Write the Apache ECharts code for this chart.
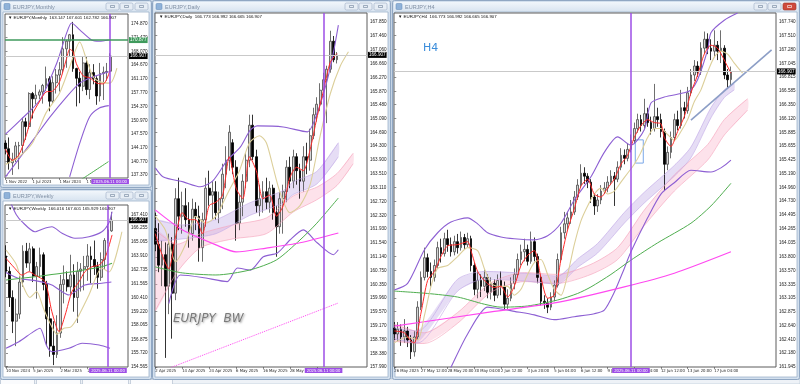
<!DOCTYPE html>
<html><head><meta charset="utf-8">
<script src="https://cdn.jsdelivr.net/npm/echarts@6/dist/echarts.min.js"></script>
<style>html,body{margin:0;padding:0;background:#c6d4e4;}#c{width:800px;height:384px;}</style>
</head><body><div id="c"></div>
<script>
// ---------------- DATA ----------------
// candles: [open, high, low, close]
const mOhlc = [
[145.3,146.0,142.5,143.9],[143.9,146.7,138.7,140.4],[140.4,142.9,137.4,141.3],[141.3,145.6,140.6,144.6],
[144.6,145.6,138.8,144.7],[144.7,151.6,142.6,150.6],[150.6,151.6,146.1,149.4],[149.4,157.9,148.8,157.6],
[157.6,158.0,151.4,156.3],[156.3,159.8,154.9,157.2],[157.2,158.6,156.2,158.0],[158.0,160.0,155.1,159.6],
[159.6,164.3,158.2,161.3],[161.3,161.9,153.2,155.7],[155.7,161.9,155.1,160.3],[160.3,163.7,157.6,162.2],
[162.2,165.4,158.1,163.5],[163.5,171.6,162.7,168.7],[168.7,170.9,164.0,170.6],[170.6,172.4,166.8,172.2],
[172.2,175.4,163.0,163.8],[163.8,164.0,154.4,161.4],[161.4,163.0,155.2,159.4],[159.4,166.7,158.2,165.2],
[165.2,166.7,157.2,158.6],[158.6,164.9,156.2,162.8],[162.8,164.9,159.9,161.3],[161.3,161.9,154.8,157.0],
[157.0,165.2,155.6,162.6],[162.6,164.3,156.0,162.9],[162.9,165.2,160.8,163.1],[163.147,167.601,162.782,166.907]];
const wOhlc = [
[163.90,164.80,162.10,162.60],[162.60,163.00,159.60,160.40],[160.40,161.00,157.40,158.40],[158.40,160.30,156.30,159.00],
[159.00,162.20,158.60,161.70],[161.70,164.80,161.30,164.30],[164.30,165.00,162.90,163.30],[163.30,165.00,162.60,164.50],
[164.50,164.70,161.70,162.20],[162.20,163.40,160.30,163.00],[163.00,164.60,162.10,164.00],[164.00,164.20,161.00,161.50],
[161.50,161.80,156.30,158.60],[158.60,159.60,155.40,156.30],[156.30,158.40,154.70,155.60],[155.60,158.90,155.30,157.40],
[157.40,162.30,157.00,161.50],[161.50,163.10,159.90,161.90],[161.90,162.60,160.90,161.30],[161.30,164.00,160.70,162.30],
[162.30,163.20,159.20,160.40],[160.40,163.40,158.25,162.60],[162.60,163.30,160.90,162.80],[162.80,163.90,161.00,163.00],
[163.00,164.90,161.80,163.90],[163.90,164.70,161.60,163.60],[163.60,165.20,162.30,163.00],[163.00,163.40,161.14,162.10],
[162.10,164.20,161.80,163.60],[163.60,165.40,162.80,165.20],[165.20,166.60,164.96,166.10],[166.016,167.601,165.929,166.907]];
const dOhlc = [
[161.95,162.40,161.30,161.50],[161.50,162.10,160.70,160.90],[160.90,161.60,160.30,161.20],[161.20,161.55,158.25,160.30],
[160.30,161.80,159.50,161.50],[161.50,161.70,158.80,160.10],[160.10,163.10,159.90,162.80],[162.80,163.40,161.90,162.30],
[162.30,163.00,161.80,162.60],[162.60,163.10,162.00,162.20],[162.20,162.70,161.40,161.80],[161.80,162.80,161.60,162.50],
[162.50,162.70,161.90,162.30],[162.30,162.60,161.00,161.40],[161.40,162.40,161.00,162.20],[162.20,163.40,162.00,163.10],
[163.10,163.60,162.60,162.90],[162.90,163.30,162.20,163.00],[163.00,163.30,162.20,162.40],[162.40,163.00,162.10,162.80],
[162.80,163.80,162.50,163.50],[163.50,164.30,163.10,163.90],[163.90,164.90,163.60,164.70],[164.40,164.50,163.50,163.70],
[163.70,163.90,161.60,162.10],[162.10,162.90,161.90,162.70],[162.70,163.50,162.30,163.30],[163.30,164.10,163.10,163.90],
[163.90,165.20,163.70,164.90],[164.90,165.20,163.90,164.00],[164.00,164.20,162.40,162.60],[162.60,163.20,162.30,162.80],
[162.80,163.30,162.40,163.00],[163.00,163.40,162.50,162.70],[162.70,163.30,162.40,163.10],[163.10,163.20,162.20,162.40],
[162.40,162.60,161.14,162.00],[162.00,163.00,161.80,162.80],[162.80,163.20,161.80,163.00],[163.00,163.90,162.70,163.70],
[163.70,164.00,163.10,163.30],[163.30,164.20,163.10,164.00],[164.00,164.10,163.20,163.60],[163.60,163.80,162.80,163.30],
[163.30,164.30,163.00,164.00],[164.00,164.40,163.50,163.90],[163.90,164.80,163.60,164.60],[164.60,165.40,164.50,165.20],
[165.20,165.70,165.00,165.50],[165.50,166.10,165.30,165.90],[165.90,166.40,165.70,166.20],[166.20,166.60,164.96,166.50],
[166.50,167.60,166.40,167.30],[167.30,167.45,166.70,166.77],[166.773,166.992,166.665,166.907]];
const hOhlc = [
[162.60,162.70,162.40,162.50],[162.50,162.70,162.38,162.58],[162.58,162.66,162.30,162.45],[162.45,162.75,162.35,162.55],
[162.55,162.62,162.28,162.40],[162.40,162.48,162.08,162.20],[162.20,162.55,162.12,162.45],[162.45,163.05,162.40,162.95],
[162.95,163.55,162.90,163.45],[163.45,163.95,163.40,163.78],[163.78,163.85,163.45,163.55],[163.55,163.70,163.30,163.45],
[163.45,163.75,163.38,163.65],[163.65,164.05,163.60,163.95],[163.95,164.10,163.70,163.85],[163.85,164.20,163.80,164.10],
[164.10,164.25,163.88,164.00],[164.00,164.12,163.80,163.88],[163.88,164.15,163.82,164.05],[164.05,164.18,163.85,163.95],
[163.95,164.22,163.90,164.12],[164.12,164.18,163.92,164.00],[164.00,164.20,163.95,164.10],[164.10,164.15,163.55,163.65],
[163.65,163.70,163.15,163.25],[163.25,163.55,163.10,163.40],[163.40,163.50,163.12,163.30],[163.30,163.58,163.22,163.45],
[163.45,163.50,163.10,163.20],[163.20,163.45,163.08,163.35],[163.35,163.42,163.05,163.15],[163.15,163.50,163.10,163.40],
[163.40,163.55,163.15,163.30],[163.30,163.38,162.90,163.00],[163.00,163.25,162.92,163.10],[163.10,163.45,163.05,163.35],
[163.35,163.60,163.25,163.50],[163.50,163.85,163.45,163.75],[163.75,164.00,163.65,163.88],[163.88,164.10,163.72,163.92],
[163.92,164.00,163.65,163.72],[163.72,164.22,163.68,164.05],[164.05,164.12,163.72,163.80],[163.80,163.85,163.35,163.45],
[163.45,163.50,162.98,163.05],[163.05,163.15,162.92,163.02],[163.02,163.10,162.85,162.95],[162.95,163.20,162.90,163.12],
[163.12,163.40,163.05,163.32],[163.32,163.85,163.28,163.75],[163.75,164.30,163.70,164.20],[164.20,164.55,164.10,164.35],
[164.35,164.55,164.25,164.45],[164.45,164.75,164.35,164.55],[164.55,164.90,164.50,164.80],[164.80,165.10,164.75,165.00],
[165.00,165.35,164.95,165.20],[165.20,165.30,165.02,165.15],[165.15,165.20,164.95,165.05],[165.05,165.10,164.70,164.80],
[164.80,164.85,164.50,164.65],[164.65,164.85,164.55,164.75],[164.75,165.00,164.68,164.90],[164.90,165.05,164.85,164.95],
[164.95,165.15,164.88,165.05],[165.05,165.25,165.00,165.15],[165.15,165.22,164.65,165.10],[165.10,165.40,165.05,165.30],
[165.30,165.62,165.25,165.50],[165.50,165.60,165.35,165.45],[165.45,165.70,165.40,165.60],[165.60,165.85,165.55,165.75],
[165.75,166.05,165.70,165.95],[165.95,166.20,165.88,166.10],[166.10,166.18,165.90,166.00],[166.00,166.45,165.95,166.20],
[166.20,166.30,165.98,166.05],[166.05,166.15,165.85,165.95],[165.95,166.70,165.90,166.15],[166.15,166.30,165.98,166.10],
[166.10,166.20,165.80,165.90],[165.90,165.95,164.90,165.35],[165.35,165.65,165.25,165.55],[165.55,165.90,165.45,165.80],
[165.80,166.20,165.75,166.10],[166.10,166.25,165.92,166.00],[166.00,166.60,165.95,166.30],[166.30,166.40,166.12,166.25],
[166.25,166.65,166.20,166.55],[166.55,166.95,166.50,166.85],[166.85,167.10,166.75,167.00],[167.00,167.08,166.82,166.90],
[166.90,167.40,166.85,167.30],[167.30,167.58,167.20,167.45],[167.45,167.55,167.20,167.30],[167.30,167.45,167.10,167.25],
[167.25,167.60,167.15,167.35],[167.35,167.42,167.10,167.25],[167.25,167.60,167.05,167.30],[167.30,167.35,166.78,166.85],
[166.85,166.95,166.62,166.77],[166.773,166.992,166.665,166.907]];

// indicator readings: [barIndex, price]  (ribbons: [barIndex, top, bottom])
const mBbUp = [[0,147.5],[4.4,151.0],[10.2,156.0],[15.2,165.2],[18.1,172.6],[19.6,175.1],[22,173.4],[25.5,170.9],[27.8,170.6],[30.6,170.9]];
const mBbMid = [[0,136.9],[8.2,146.1],[13.2,151.8],[18.1,156.8],[22,160.2],[25.8,161.7],[30.6,163.0]];
const mBbLo = [[19,136.9],[22,145.3],[24.9,151.8],[27.8,154.0],[30.6,154.6]];
const mRed = [[0,143.8],[2,141.0],[4,142.4],[6,146.8],[8,152.5],[10,155.5],[12,158.0],[14,158.2],[16,160.5],[18,166.0],[19,168.6],[20,168.0],[21,165.0],[23,162.0],[25,161.5],[27,160.2],[29,160.0],[31,163.4]];
const mBeige = [[0,140.0],[4,141.9],[8,145.3],[12,152.8],[16,157.7],[19,164.2],[22,170.4],[24,166.0],[26,161.7],[28,160.5],[31,160.2],[33,163.9]];
const mGreen = [[22,136.0],[26,138.2],[30.5,140.7]];

const wBbUp = [[1.5,168.3],[3,167.4],[4.7,166.79],[8.5,165.94],[11,166.2],[13.5,166.36],[16.5,165.81],[20.3,165.39],[24.4,165.52],[28.2,165.94],[30.3,166.7],[31.2,167.63]];
const wBbMid = [[0,162.5],[3.8,162.0],[9,161.8],[13.5,161.45],[18.5,160.61],[23.2,161.45],[28.2,161.6],[31,161.7]];
const wBbLo = [[0,156.12],[3.8,156.67],[8,157.5],[10,157.8],[12,156.3],[13.5,155.83],[18.5,156.12],[22.4,156.54],[27.4,156.4],[30.6,156.12]];
const wGreen = [[0,161.87],[8.5,162.15],[18.5,162.52],[28.2,162.99],[31.2,163.28]];
const wRed = [[0,163.7],[2.6,162.86],[4.7,162.29],[6.8,162.57],[8.5,162.29],[11.5,161.73],[13.5,159.2],[15.6,157.52],[17.4,158.92],[19.4,160.89],[21.5,161.73],[23.2,162.57],[25.3,162.99],[27.4,163.14],[29.1,163.7],[31.2,165.67]];
const wBeige = [[0,164.4],[3,163.2],[5,161.4],[7,160.4],[9,160.9],[11,159.5],[13,158.2],[15,157.3],[17,157.8],[19,157.9],[21,158.67],[24.4,160.61],[28.2,162.88],[30.3,162.55],[34.1,165.94]];

const dBbUp = [[0,163.68],[2.4,163.42],[8.3,163.28],[13.4,163.14],[17,163.3],[21.4,163.9],[25.3,164.28],[28.2,164.76],[30.3,164.88],[38,164.85],[45.2,164.71],[48.1,165.25],[51.1,166.19],[52.9,166.96],[54.4,167.76]];
const dBbLo = [[4,159.8],[7.4,160.62],[14,160.55],[21.4,160.43],[24.4,160.82],[28.2,160.76],[32.1,161.14],[36.3,161.25],[40,161.62],[44,161.91],[48.1,161.54],[52.9,161.2],[54.4,161.34]];
const dRed = [[0,161.8],[2,161.2],[4,160.8],[6,161.7],[8,162.4],[10,162.2],[12,162.2],[14,161.8],[16,162.6],[18,162.7],[20,162.9],[22,164.0],[24,163.1],[26,162.8],[28,164.0],[30,163.6],[32,162.8],[34,162.9],[36,162.3],[38,162.6],[40,163.4],[42,163.7],[44,163.6],[46,164.2],[48,165.1],[50,165.9],[52,166.7],[54,166.95]];
const dBeige = [[0,162.3],[3,161.9],[6,161.0],[9,161.5],[12,162.3],[15,162.1],[18,162.3],[22,163.05],[25,163.6],[28,164.4],[31,164.6],[33,164.4],[35,163.7],[37,163.0],[40,162.4],[43,162.6],[46,163.2],[49,164.6],[52,165.8],[55,166.6],[57.4,167.0]];
const dPurpleRib = [[0,162.2,161.6],[8,162.05,161.65],[18,162.2,161.8],[28,162.68,162.32],[38,163.03,162.67],[41,163.28,162.92],[48,163.58,163.22],[54.4,164.4,164.0]];
const dPinkRib = [[0,161.9,159.6],[6.5,161.5,160.7],[13.4,161.8,161.4],[23,162.05,161.65],[33,162.25,161.8],[41,162.88,162.42],[48,163.13,162.77],[54,163.52,163.18],[58.8,164.1,163.8]];
const dGreen = [[0,160.85],[8,160.68],[18,160.62],[28,160.76],[36,161.05],[43,161.62],[48,162.1],[54.4,162.82]];
const dMagenta = [[0,162.48],[8,161.91],[18,161.48],[24,161.28],[33,161.39],[43,161.54],[54.4,161.82]];
const dMagentaDot = [[4.5,157.97],[54.4,159.82]];

const hBbUp = [[0,163.24],[4,163.35],[9,163.91],[13,164.2],[17,164.38],[22,164.45],[25,164.35],[28,164.2],[32,164.13],[36,164.1],[42,164.08],[46,164.15],[50,164.36],[54,164.75],[59,165.14],[63,165.55],[67,165.81],[71,165.67],[75,165.93],[77,166.38],[81,166.48],[87,166.55],[89,166.6],[91,166.77],[94,167.27],[95,167.56],[99,167.77],[103,167.89]];
const hBbLo = [[0,161.6],[10,161.5],[15,161.7],[17,161.94],[22,162.5],[28,162.95],[32,162.92],[36,162.88],[42,162.82],[48,162.74],[54,162.79],[60,162.84],[63,162.9],[66,163.2],[69,163.6],[71,163.88],[76,164.45],[80,164.85],[84,165.04],[89,165.25],[95,165.22],[98,165.29],[101,165.42]];
const hRed = [[0,162.55],[3,162.52],[5,162.38],[6,162.35],[8,162.85],[10,163.4],[12,163.55],[14,163.8],[16,163.98],[19,164.0],[22,164.05],[23,163.9],[25,163.55],[27,163.4],[30,163.28],[32,163.3],[34,163.12],[36,163.3],[38,163.65],[40,163.82],[42,163.9],[44,163.45],[46,163.1],[48,163.15],[50,163.75],[52,164.25],[54,164.6],[56,164.98],[58,165.1],[60,164.85],[62,164.8],[64,164.95],[66,165.1],[68,165.35],[70,165.5],[72,165.8],[74,166.0],[76,166.1],[78,166.05],[80,166.03],[81,165.8],[83,165.65],[85,165.9],[87,166.15],[89,166.55],[91,166.85],[93,167.2],[95,167.35],[97,167.3],[99,167.1],[101,166.88]];
const hBeige = [[0,162.35],[4,162.45],[7,162.4],[9,162.8],[11,163.3],[13,163.6],[16,163.65],[19,163.8],[22,163.95],[25,163.9],[27,163.6],[29,163.35],[31,163.3],[34,163.3],[36,163.15],[38,163.25],[40,163.5],[42,163.7],[44,163.75],[46,163.5],[48,163.25],[50,163.15],[52,163.5],[54,164.0],[56,164.4],[58,164.65],[60,164.85],[62,164.95],[64,164.85],[66,164.9],[68,165.05],[70,165.2],[72,165.35],[74,165.55],[76,165.8],[78,165.95],[80,165.95],[82,165.85],[84,165.75],[86,165.9],[88,166.1],[90,166.4],[92,166.6],[94,166.9],[96,167.15],[98,167.25],[100,167.2],[102,167.05],[104.5,166.88]];
const hPurpleRib = [[0,162.60,162.42],[7,162.55,162.35],[19,163.42,163.22],[27,163.55,163.42],[39,163.52,163.39],[49,163.47,163.34],[55,163.76,163.62],[61,164.02,163.86],[69,164.54,164.36],[75,164.88,164.70],[84,165.33,165.15],[89,165.64,165.46],[95,166.30,166.13],[99,166.60,166.47],[102,166.70,166.60]];
const hPinkRib = [[0,162.66,162.38],[9,162.52,162.34],[19,162.86,162.68],[29,163.36,163.20],[39,163.53,163.38],[49,163.50,163.35],[59,163.67,163.50],[67,163.95,163.75],[75,164.58,164.32],[84,165.17,164.90],[94,165.68,165.42],[99,166.10,165.84],[106,166.45,166.26]];
const hGreen = [[0,163.22],[10,163.18],[19,163.12],[27,163.0],[32,162.95],[40,162.97],[49,163.07],[55,163.18],[59,163.29],[65,163.5],[71,163.74],[79,164.03],[89,164.36],[95,164.65],[101,165.03]];
const hMagenta = [[0,162.63],[29,162.87],[49,163.03],[69,163.29],[84,163.52],[101,163.88]];
const hTrend = [[89,166.09],[113.2,167.27]];

// axis ticks
const mPriceTicks = [174.870,171.470,168.070,164.670,161.170,157.770,154.370,150.970,147.570,144.170,140.770,137.370];
const wPriceTicks = [167.410,166.255,165.065,163.910,162.735,161.565,160.410,159.220,158.065,156.875,155.720,154.565];
const dPriceTicks = [167.850,167.460,167.060,166.660,166.270,165.870,165.480,165.090,164.690,164.300,163.900,163.510,163.110,162.720,162.320,161.930,161.540,161.140,160.750,160.350,159.960,159.570,159.170,158.780,158.380,157.990];
const hPriceTicks = [167.740,167.510,167.280,167.045,166.815,166.585,166.350,166.120,165.885,165.655,165.425,165.190,164.960,164.730,164.495,164.265,164.035,163.800,163.570,163.335,163.105,162.875,162.640,162.410,162.180,161.945];
const mTimeIdx = [0,8,16,24];
const mTimeText = ['1 Nov 2022','1 Jul 2023','1 Mar 2024','1 Nov 2024'];
const wTimeIdx = [0,8,16,24];
const wTimeText = ['10 Nov 2024','5 Jan 2025','2 Mar 2025','27 Apr 2025'];
const dTimeIdx = [0,8,16,24,32,40,48];
const dTimeText = ['2 Apr 2025','14 Apr 2025','24 Apr 2025','6 May 2025','16 May 2025','28 May 2025','9 Jun 2025'];
const hTimeIdx = [0,8,16,24,32,40,48,56,64,72,80,88,96];
const hTimeText = ['26 May 2025','27 May 12:00','28 May 20:00','30 May 04:00','2 Jun 12:00','3 Jun 20:00','5 Jun 04:00','6 Jun 12:00','9 Jun 20:00','11 Jun 04:00','12 Jun 12:00','13 Jun 20:00','17 Jun 04:00'];
const lastPrice = 166.907;
const lastPriceText = '166.907';
const levelPrice = 170.877;
const vlineText = '2025.06.11 00:00';

// ---------------- BUILD ----------------
const LF = 4.6;
const XF = 4.2;
const FONT = 'Liberation Sans, Arial, sans-serif';
const NARROW = 'Liberation Sans Narrow, DejaVu Sans Condensed, Liberation Sans, sans-serif';
const C = {bullFill:'#d6d6d6', bullLine:'#4a4a4a', bear:'#000000', red:'#ff2a2a', beige:'#dccf9a', bb:'#8d5fd3',
  green:'#4fae4f', magenta:'#ff48f0', vline:'#9d4ee6', purpleFill:'rgba(190,165,230,0.38)', purpleEdge:'#c0a6e6',
  pinkFill:'rgba(250,170,195,0.34)', pinkEdge:'#f5a0b8', trend:'#8c9ec6'};

const panels = [
 {box:[5,14,123,164], xMin:-0.15, xMax:36.29, yMin:136.628, yMax:177.353, ohlc:mOhlc, yTicks:mPriceTicks, xIdx:mTimeIdx, xText:mTimeText, vline:31,
  lines:[[mBbUp,C.bb,1.1],[mBbMid,C.bb,1.1],[mBbLo,C.bb,1.1],[mGreen,C.green,1],[mBeige,C.beige,1.1],[mRed,C.red,1]], ribbons:[], level:true},
 {box:[5,205,123,162], xMin:-0.29, xMax:35.89, yMin:154.54, yMax:168.194, ohlc:wOhlc, yTicks:wPriceTicks, xIdx:wTimeIdx, xText:wTimeText, vline:30,
  lines:[[wBbUp,C.bb,1.1],[wBbMid,C.bb,1.1],[wBbLo,C.bb,1.1],[wGreen,C.green,1.1],[wBeige,C.beige,1.1],[wRed,C.red,1]], ribbons:[]},
 {box:[155,13,212,354], xMin:-0.09, xMax:62.91, yMin:157.99, yMax:168.107, ohlc:dOhlc, yTicks:dPriceTicks, xIdx:dTimeIdx, xText:dTimeText, vline:50,
  lines:[[dBbUp,C.bb,1.1],[dBbLo,C.bb,1.1],[dGreen,C.green,1],[dMagenta,C.magenta,1.2],[dBeige,C.beige,1.1],[dRed,C.red,1]],
  dotted:[dMagentaDot,C.magenta], ribbons:[[dPinkRib,C.pinkFill,C.pinkEdge],[dPurpleRib,C.purpleFill,C.purpleEdge]]},
 {box:[394,13,382,354], xMin:-0.09, xMax:114.52, yMin:161.945, yMax:167.891, ohlc:hOhlc, yTicks:hPriceTicks, xIdx:hTimeIdx, xText:hTimeText, vline:71,
  lines:[[hBbUp,C.bb,1.1],[hBbLo,C.bb,1.1],[hGreen,C.green,1],[hMagenta,C.magenta,1.2],[hBeige,C.beige,1.1],[hRed,C.red,1],[hTrend,C.trend,1.6]],
  ribbons:[[hPinkRib,C.pinkFill,C.pinkEdge],[hPurpleRib,C.purpleFill,C.purpleEdge]], box2:true}
];

const opt = {animation:false, grid:[], xAxis:[], yAxis:[], series:[], graphic:[]};

function ribbonSeries(gi, pts, fill){
  return {type:'custom', xAxisIndex:gi, yAxisIndex:gi, clip:true, silent:true, z:1,
    data:[[pts[0][0], pts[0][1]]],
    renderItem:function(params, api){
      const top = pts.map(p => api.coord([p[0], p[1]]));
      const bot = pts.slice().reverse().map(p => api.coord([p[0], p[2]]));
      return {type:'polygon', shape:{points: top.concat(bot), smooth:0.2}, style:{fill:fill, stroke:null}};
    }};
}
function lineSeries(gi, data, color, width, type){
  return {type:'line', xAxisIndex:gi, yAxisIndex:gi, data:data, symbol:'none', smooth:0.25, silent:true, z:4,
    lineStyle:{color:color, width:width, type:type||'solid'}};
}

panels.forEach((p, gi) => {
  opt.grid.push({left:p.box[0], top:p.box[1], width:p.box[2], height:p.box[3], show:true, borderColor:'#5c5c5c', borderWidth:1, backgroundColor:'#fff'});
  opt.xAxis.push({type:'value', gridIndex:gi, min:p.xMin, max:p.xMax, splitLine:{show:false}, axisLine:{show:false},
    axisTick:{show:true, customValues:p.xIdx, length:2, lineStyle:{color:'#444', width:0.6}},
    axisLabel:{show:true, customValues:p.xIdx, formatter:v => p.xText[p.xIdx.indexOf(Math.round(v))] || '',
      fontSize:XF, color:'#222', align:'left', margin:1.5, fontFamily:NARROW}});
  opt.yAxis.push({type:'value', gridIndex:gi, position:'right', min:p.yMin, max:p.yMax, splitLine:{show:false}, axisLine:{show:false},
    axisTick:{show:true, customValues:p.yTicks, length:2, lineStyle:{color:'#444', width:0.6}},
    axisLabel:{show:true, customValues:p.yTicks, formatter:v => v.toFixed(3), fontSize:LF, color:'#222', margin:3, fontFamily:FONT}});
  p.ribbons.forEach(r => {
    opt.series.push(ribbonSeries(gi, r[0], r[1]));
    opt.series.push(lineSeries(gi, r[0].map(q => [q[0], q[1]]), r[2], 0.6));
    opt.series.push(lineSeries(gi, r[0].map(q => [q[0], q[2]]), r[2], 0.6));
  });
  const ml = [
    {yAxis:lastPrice, lineStyle:{color:'#c9c9c9', width:1, type:'solid'},
     label:{show:true, position:'end', formatter:lastPriceText, color:'#fff', backgroundColor:'#000', fontSize:LF, padding:[1,1,0,1], distance:1, fontFamily:FONT}},
    {xAxis:p.vline, lineStyle:{color:C.vline, width:1.5, type:'solid'},
     label:{show:true, position:'start', formatter:vlineText, color:'#fff', backgroundColor:C.vline, fontSize:XF, padding:[1,2,0,2], distance:1, fontFamily:NARROW}}
  ];
  if (p.level) ml.push({yAxis:levelPrice, lineStyle:{color:'#3f9a5c', width:1.6, type:'solid'},
     label:{show:true, position:'end', formatter:levelPrice.toFixed(3), color:'#fff', backgroundColor:'#3f9a5c', fontSize:LF, padding:[1,1,0,1], distance:1, fontFamily:FONT}});
  const cs = {type:'candlestick', xAxisIndex:gi, yAxisIndex:gi, z:3, silent:true, barWidth:'62%',
    data:p.ohlc.map((d,i) => [i, d[0], d[3], d[2], d[1]]),
    itemStyle:{color:C.bullFill, color0:C.bear, borderColor:C.bullLine, borderColor0:C.bear, borderWidth:0.8},
    markLine:{symbol:['none','none'], silent:true, animation:false, data:ml}};
  if (p.box2) cs.markArea = {silent:true, data:[[{xAxis:72.3, yAxis:165.76},{xAxis:74.7, yAxis:165.37}]],
     itemStyle:{color:'rgba(0,0,0,0)', borderColor:'#7aa7e8', borderWidth:1}};
  opt.series.push(cs);
  if (p.dotted) opt.series.push(lineSeries(gi, p.dotted[0], p.dotted[1], 1, 'dotted'));
  p.lines.forEach(l => opt.series.push(lineSeries(gi, l[0], l[1], l[2])));
});

// window chrome
const wins = [
  {x:0, y:0, w:152, h:188, title:'EURJPY,Monthly', active:false},
  {x:0, y:189, w:152, h:191, title:'EURJPY,Weekly', active:false},
  {x:152, y:0, w:239, h:380, title:'EURJPY,Daily', active:false},
  {x:392, y:0, w:408, h:380, title:'EURJPY,H4', active:true}
];
const g = opt.graphic;
g.push({type:'rect', z:-100, shape:{x:0,y:0,width:800,height:384}, style:{fill:'#c6d4e4'}});
g.push({type:'rect', z:-100, shape:{x:0,y:379,width:800,height:5}, style:{fill:'#eef2f7', stroke:'#b4c2d4', lineWidth:0.6}});
[[0,34],[36,80],[82,128],[130,172]].forEach(t => g.push({type:'rect', z:-99, shape:{x:t[0]+0.5,y:379.5,width:t[1]-t[0],height:5}, style:{fill:'#fafbfd', stroke:'#a9b7ca', lineWidth:0.6}}));
wins.forEach(w => {
  g.push({type:'rect', z:-99, shape:{x:w.x+0.5, y:w.y+0.5, width:w.w-1, height:w.h-1, r:2}, style:{fill:'#d3e0ee', stroke:'#90a7c3', lineWidth:1}});
  g.push({type:'rect', z:-98, shape:{x:w.x+2, y:w.y+2, width:w.w-4, height:10},
    style:{fill:{type:'linear', x:0, y:0, x2:0, y2:1, colorStops:[{offset:0,color:'#f1f6fb'},{offset:1,color:'#d7e3f0'}]}}});
  g.push({type:'rect', z:-97, shape:{x:w.x+4, y:w.y+3.5, width:6, height:6, r:1}, style:{fill:'#8fb2d9', stroke:'#5f86b5', lineWidth:0.5}});
  g.push({type:'text', z:-96, x:w.x+13, y:w.y+7, style:{text:w.title, fontSize:5.5, fill:'#7e8ea3', fontFamily:FONT, verticalAlign:'middle'}});
  [46,32,17].forEach((o, k) => {
    const isClose = (k === 2 && w.active);
    g.push({type:'rect', z:-96, shape:{x:w.x+w.w-o, y:w.y+3, width:13, height:7, r:1.5},
      style:{fill:isClose ? '#cf4a3c' : '#e6edf5', stroke:isClose ? '#9a3027' : '#9aabc2', lineWidth:0.6}});
    g.push({type:'rect', z:-95, shape:{x:w.x+w.w-o+4.5, y:w.y+5.5, width:4, height:2}, style:{fill:'none', stroke:isClose ? '#fff' : '#6d7f98', lineWidth:0.6}});
  });
  g.push({type:'rect', z:-97, shape:{x:w.x+3, y:w.y+12, width:w.w-6, height:w.h-15}, style:{fill:'#ffffff', stroke:'#9fb2ca', lineWidth:0.8}});
});
// header lines inside the plots
[[8,18,'\u25BC EURJPY,Monthly  163.147 167.601 162.782 166.907'],
 [8,209,'\u25BC EURJPY,Weekly  166.016 167.601 165.929 166.907'],
 [159,16.5,'\u25BC EURJPY,Daily  166.773 166.992 166.665 166.907'],
 [398,16.5,'\u25BC EURJPY,H4  166.773 166.992 166.665 166.907']].forEach(h =>
  g.push({type:'text', z:100, x:h[0], y:h[1], style:{text:h[2], fontSize:4.4, fill:'#111', fontFamily:FONT, verticalAlign:'middle'}}));
g.push({type:'text', z:100, x:423, y:48, style:{text:'H4', fontSize:11, fill:'#3b8ddb', fontFamily:'DejaVu Sans, sans-serif', verticalAlign:'middle'}});
g.push({type:'text', z:100, x:173, y:319, style:{text:'EURJPY  BW', fontSize:12, fontStyle:'italic', fill:'#7a7a7a', fontFamily:'DejaVu Sans, sans-serif', verticalAlign:'middle',
  textShadowColor:'rgba(0,0,0,0.35)', textShadowBlur:2, textShadowOffsetX:1, textShadowOffsetY:1}});

const chart = echarts.init(document.getElementById('c'), null, {renderer:'canvas', width:800, height:384});
chart.setOption(opt);
</script></body></html>
